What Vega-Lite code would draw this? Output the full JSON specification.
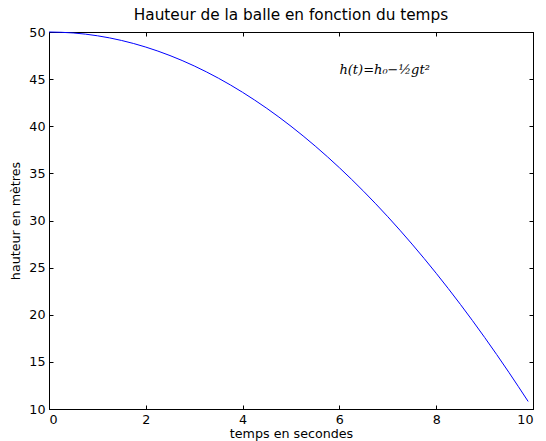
{
  "$schema": "https://vega.github.io/schema/vega-lite/v6.json",
  "width": 484,
  "height": 377,
  "autosize": {"type": "none"},
  "padding": {"left": 49, "top": 32, "right": 13, "bottom": 32},
  "background": "white",
  "title": {"text": "Hauteur de la balle en fonction du temps", "font": "DejaVu Sans", "fontSize": 15.3, "fontWeight": "normal", "color": "black", "offset": 3, "anchor": "middle"},
  "config": {
    "view": {"stroke": "black", "strokeWidth": 1},
    "axis": {"labelFont": "DejaVu Sans", "titleFont": "DejaVu Sans", "labelFontSize": 12.7, "titleFontSize": 12.7, "titleFontWeight": "normal", "labelColor": "black", "titleColor": "black", "domainColor": "black", "tickColor": "black", "grid": false, "tickSize": -4, "labelPadding": 8}
  },
  "data": {"values": [
    {"t": 0, "h": 50},
    {"t": 0.5, "h": 49.9},
    {"t": 1, "h": 49.6},
    {"t": 1.5, "h": 49.1},
    {"t": 2, "h": 48.4},
    {"t": 2.5, "h": 47.5},
    {"t": 3, "h": 46.4},
    {"t": 3.5, "h": 45.1},
    {"t": 4, "h": 43.6},
    {"t": 4.5, "h": 41.9},
    {"t": 5, "h": 40},
    {"t": 5.5, "h": 37.9},
    {"t": 6, "h": 35.6},
    {"t": 6.5, "h": 33.1},
    {"t": 7, "h": 30.4},
    {"t": 7.5, "h": 27.5},
    {"t": 8, "h": 24.4},
    {"t": 8.5, "h": 21.1},
    {"t": 9, "h": 17.6},
    {"t": 9.5, "h": 13.9},
    {"t": 9.9, "h": 10.8}
  ]},
  "layer": [
    {
      "mark": {"type": "line", "color": "#0000ff", "strokeWidth": 1, "interpolate": "monotone"},
      "encoding": {
        "x": {"field": "t", "type": "quantitative", "scale": {"domain": [0, 10], "nice": false, "zero": false}, "axis": {"title": "temps en secondes", "values": [0, 2, 4, 6, 8, 10], "titlePadding": 2}},
        "y": {"field": "h", "type": "quantitative", "scale": {"domain": [10, 50], "nice": false, "zero": false}, "axis": {"title": "hauteur en mètres", "values": [10, 15, 20, 25, 30, 35, 40, 45, 50], "titlePadding": 6}}
      }
    },
    {
      "data": {"values": [{"t": 6, "h": 46, "label": "h(t)=h₀−½gt²"}]},
      "mark": {"type": "text", "align": "left", "baseline": "middle", "font": "DejaVu Serif", "fontStyle": "italic", "fontSize": 13, "color": "black"},
      "encoding": {
        "x": {"field": "t", "type": "quantitative", "scale": {"domain": [0, 10], "nice": false, "zero": false}, "axis": {"orient": "top", "title": null, "labels": false, "values": [0, 2, 4, 6, 8, 10]}},
        "y": {"field": "h", "type": "quantitative", "scale": {"domain": [10, 50], "nice": false, "zero": false}, "axis": {"orient": "right", "title": null, "labels": false, "values": [10, 15, 20, 25, 30, 35, 40, 45, 50]}},
        "text": {"field": "label"}
      }
    }
  ],
  "resolve": {"axis": {"x": "independent", "y": "independent"}}
}
